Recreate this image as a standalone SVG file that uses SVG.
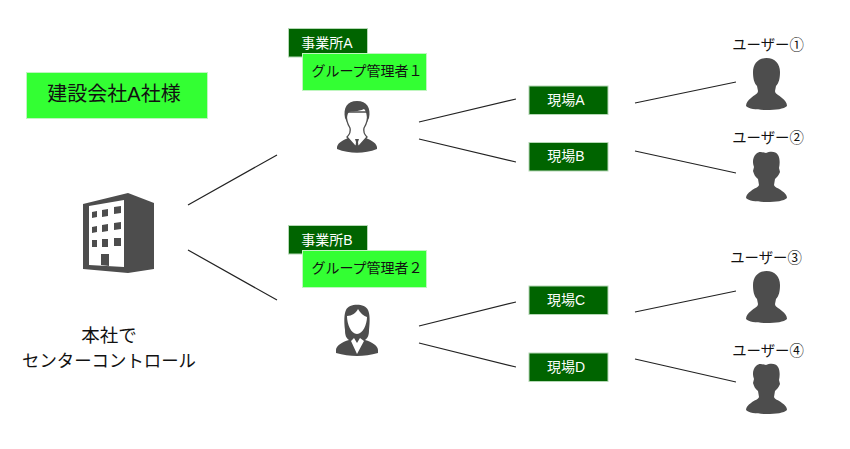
<svg xmlns="http://www.w3.org/2000/svg" xmlns:xlink="http://www.w3.org/1999/xlink" width="850" height="449" viewBox="0 0 850 449">
<style>
text{font-family:"Liberation Sans","Noto Sans CJK JP",sans-serif;text-anchor:middle;fill:#111}
.dark{fill:#006400;stroke:#b5d8b5;stroke-width:1}
.lime{fill:#33ff33;stroke:#c0f5c0;stroke-width:1}
.w{fill:#fff;font-size:14px}
.b{font-size:14px}
.u{font-size:14.400px}
.big{font-size:18.500px}
.ic{fill:#4d4d4d}
.wh{fill:#fff}
.ol{fill:#fff;stroke:#4d4d4d;stroke-width:1.300}
.l{stroke:#222;stroke-width:1.200;fill:none}
</style>
<defs>
<path id="userSmooth" class="ic" d="M20.500 0C29 0 34 6 34 14C34 20 33 25 30 28L29 33C29 36 33 37 36 40C39 42 41 45 41 48C38 51 30 52 20.500 52C11 52 3 51 0 48C0 45 2 42 5 40C8 37 12 36 12 33L11 28C8 25 7 20 7 14C7 6 12 0 20.500 0Z"/>
<path id="userTuft" class="ic" d="M10 4C14 0 17 3 20 3C24 1 30 1 32 5C34 8 34 14 33 18L34 22C33 25 31 27 29 29L28 35C29 38 33 38 36 41C39 43 41 45 41 48C38 51 30 52 20.500 52C11 52 3 51 0 48C0 45 2 43 5 41C8 38 12 38 13 35L12 29C9 27 8 24 7 21L8 17C6 12 7 7 10 4Z"/>
</defs>
<rect x="26.500" y="72.500" width="181" height="46" fill="#33ff33" stroke="#c0f5c0"/>
<text x="114" y="101" font-size="20">建設会社A社様</text>
<text class="big" x="109" y="342">本社で</text>
<text x="109" y="367" font-size="17.400">センターコントロール</text>
<g id="connectors">
<path class="l" d="M188 205L277 155M188 250L277 300M419 122L516 99M419 139L516 162M419 326L516 302M419 343L516 367M635 103L736 82M635 151L736 173M635 312L736 291M635 359L736 382"/>
</g>
<g id="hq">
<path class="ic" d="M83 204L128 193L154 203V269L128 273L83 269Z"/>
<path class="wh" d="M89 206L124 200V267L89 265Z"/>
<path class="ic" d="M92 212L97 211V217L92 218ZM102 210L108 209V216L102 217ZM114 207L121 206V213L114 214ZM92 227L97 226V232L92 233ZM102 225L108 224V231L102 232ZM114 223L121 222V229L114 230ZM92 240L97 240V247L92 247ZM102 239L108 239V247L102 247ZM114 238L121 238V246L114 246ZM101 254L109 254V266L101 265Z"/>
</g>
<g id="officeA">
<rect class="dark" x="288.500" y="28.500" width="79" height="28.500"/>
<text class="w" x="327" y="47.500">事業所A</text>
</g>
<g id="adminA">
<rect class="lime" x="302.500" y="53.500" width="124" height="37"/>
<text class="b" x="367" y="76">グループ管理者１</text>
<path class="ic" d="M337 147C338 142 345 139 351 137L357 139L363 137C369 139 376 142 377 147V149C364 154 350 154 337 149Z"/>
<path class="ol" d="M346 112C346 120 348 125 350 128C351 132 350 134 347 137L355 146H359L367 137C364 134 363 132 364 128C366 125 368 120 368 112Z"/>
<path class="ic" d="M345 118C343 108 347 101 357 101C367 101 371 108 369 118L367 122C367 114 366 111 364 109C358 112 352 111 349 112C347 114 347 117 347 122Z"/>
<path class="ic" d="M355 139H359L358 142L359 151H355L356 142Z"/>
</g>
<g id="officeB">
<rect class="dark" x="288.500" y="225.500" width="79" height="28.500"/>
<text class="w" x="327" y="244.500">事業所B</text>
</g>
<g id="adminB">
<rect class="lime" x="302.500" y="250.500" width="124" height="37"/>
<text class="b" x="367" y="273">グループ管理者２</text>
<path class="ic" d="M336 350C336 346 342 342 349 340C346 338 345 335 345 330C344 322 344 314 346 310C349 303 365 303 368 310C370 314 370 322 369 330C369 335 368 338 365 340C372 342 378 346 378 350V353C364 357 350 357 336 353Z"/>
<path class="wh" d="M347 316C352 316 356 313 358 309C360 313 364 316 367 317C367 324 363 334 357 334C351 334 347 324 347 316ZM351 341L354 338L357 343L360 338L364 341L357 354Z"/>
</g>
<g id="siteA"><rect class="dark" x="529" y="86" width="79" height="28.500"/><text class="w" x="566" y="104.500">現場A</text></g>
<g id="siteB"><rect class="dark" x="529" y="142.500" width="79" height="28.500"/><text class="w" x="566" y="161">現場B</text></g>
<g id="siteC"><rect class="dark" x="529" y="286" width="79" height="28.500"/><text class="w" x="566" y="305">現場C</text></g>
<g id="siteD"><rect class="dark" x="529" y="353" width="79" height="28.500"/><text class="w" x="566" y="371.500">現場D</text></g>
<g id="user1"><text class="u" x="768" y="50">ユーザー①</text><use xlink:href="#userSmooth" href="#userSmooth" x="746" y="58"/></g>
<g id="user2"><text class="u" x="768" y="143">ユーザー②</text><use xlink:href="#userTuft" href="#userTuft" x="746" y="150"/></g>
<g id="user3"><text class="u" x="766" y="263">ユーザー③</text><use xlink:href="#userSmooth" href="#userSmooth" x="746" y="271"/></g>
<g id="user4"><text class="u" x="768" y="356">ユーザー④</text><use xlink:href="#userTuft" href="#userTuft" x="746" y="362"/></g>
</svg>
